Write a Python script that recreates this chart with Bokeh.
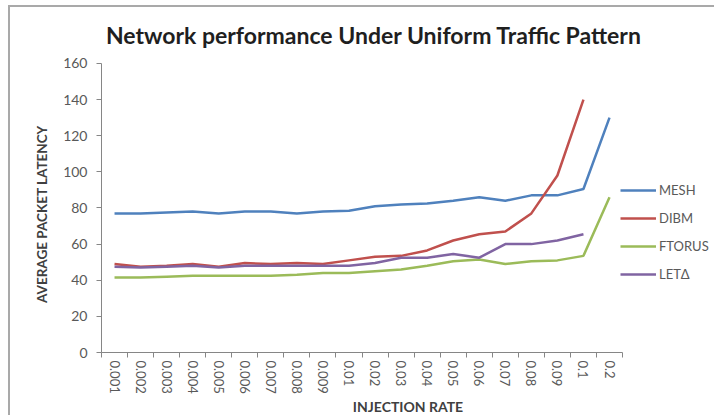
from bokeh.plotting import figure
from bokeh.models import Range1d, FixedTicker, Legend, LegendItem, Label
from bokeh.embed import file_html
from bokeh.resources import INLINE

# Injection rates (categories on the x axis)
rates = ["0.001", "0.002", "0.003", "0.004", "0.005", "0.006", "0.007", "0.008", "0.009",
         "0.01", "0.02", "0.03", "0.04", "0.05", "0.06", "0.07", "0.08", "0.09", "0.1", "0.2"]

# Average packet latency per topology
mesh = [77, 77, 77.5, 78, 77, 78, 78, 77, 78, 78.5, 81, 82, 82.5, 84, 86, 84, 87, 87, 90.5, 130]
dibm = [49, 47.5, 48, 49, 47.5, 49.5, 49, 49.5, 49, 51, 53, 53.5, 56.5, 62, 65.5, 67, 77, 98, 140]
ftorus = [41.5, 41.5, 42, 42.5, 42.5, 42.5, 42.5, 43, 44, 44, 45, 46, 48, 50.5, 51.5, 49, 50.5, 51, 53.5, 86]
leta = [47.5, 47, 47.5, 48, 47, 48, 48, 48, 48, 48, 49.5, 52.5, 52.5, 54.5, 52.5, 60, 60, 62, 65.5]

y_ticks = [0, 20, 40, 60, 80, 100, 120, 140, 160]
Y_MAX = 160

FONT = "Lato"
AXIS_GREY = "#868686"
TEXT_GREY = "#595959"

n = len(rates)
positions = [i + 0.5 for i in range(n)]
boundaries = list(range(n + 1))

# The frame covers the heading and legend area too; the axes are bounded
# to the data extent so they stop where the chart body ends.
p = figure(frame_width=613, frame_height=345, output_backend="svg", toolbar_location=None,
           x_range=Range1d(0, 23.53), y_range=Range1d(0, 191),
           min_border_left=91, min_border_right=0, min_border_top=0, min_border_bottom=63)
p.margin = (5, 0, 0, 8)
p.styles = {"border-top": "2px solid #a9a9a9", "border-left": "2px solid #a9a9a9"}
p.outline_line_color = None
p.background_fill_color = "white"
p.border_fill_color = "white"
p.grid.visible = False

# x axis: labels at category centres, tick marks at category boundaries
xa = p.xaxis[0]
xa.bounds = (0, n)
xa.ticker = FixedTicker(ticks=positions, minor_ticks=boundaries)
xa.major_label_overrides = {pos: lab for pos, lab in zip(positions, rates)}
xa.major_label_orientation = "vertical"
xa.major_tick_out = 0
xa.major_tick_in = 0
xa.minor_tick_out = 5
xa.minor_tick_in = 0
xa.minor_tick_line_color = AXIS_GREY
xa.axis_line_color = AXIS_GREY
xa.major_label_text_font = FONT
xa.major_label_text_font_size = "13px"
xa.major_label_text_color = TEXT_GREY
xa.major_label_standoff = 3
xa.axis_label = "INJECTION RATE"
xa.axis_label_text_font = FONT
xa.axis_label_text_font_style = "bold"
xa.axis_label_text_font_size = "14px"
xa.axis_label_text_color = "#404040"
xa.axis_label_standoff = 1

ya = p.yaxis[0]
ya.bounds = (0, Y_MAX)
ya.ticker = FixedTicker(ticks=y_ticks)
ya.major_tick_out = 5
ya.major_tick_in = 0
ya.minor_tick_out = 0
ya.minor_tick_in = 0
ya.major_tick_line_color = AXIS_GREY
ya.axis_line_color = AXIS_GREY
ya.major_label_text_font = FONT
ya.major_label_text_font_size = "14px"
ya.major_label_text_color = TEXT_GREY
ya.major_label_standoff = 9
# trailing no-break spaces keep the title centred on the bounded axis, not the taller frame
ya.axis_label = "AVERAGE PACKET LATENCY" + "\u00a0" * 21
ya.axis_label_text_font = FONT
ya.axis_label_text_font_style = "bold"
ya.axis_label_text_font_size = "13.5px"
ya.axis_label_text_color = "#404040"
ya.axis_label_standoff = 10

series = [
    ("MESH", mesh, "#4F81BD"),
    ("DIBM", dibm, "#C0504D"),
    ("FTORUS", ftorus, "#9BBB59"),
    ("LET\u0394", leta, "#8064A2"),
]
items = []
for name, vals, color in series:
    r = p.line(positions[:len(vals)], vals, line_color=color, line_width=2.5)
    items.append(LegendItem(label=name, renderers=[r]))

legend = Legend(items=items, location=(519, 68), orientation="vertical",
                padding=0, margin=0, spacing=8, glyph_width=36, glyph_height=20,
                label_height=20, label_standoff=3,
                label_text_font=FONT, label_text_font_size="13px",
                label_text_color=TEXT_GREY, border_line_color=None,
                background_fill_alpha=0)
p.add_layout(legend)

heading = Label(x=10.46, y=175.5, text="Network performance Under Uniform Traffic Pattern",
                text_align="center", text_baseline="middle", text_font=FONT,
                text_font_size="23px", text_font_style="bold", text_color="#1f1f1f")
p.add_layout(heading)

open("out.html", "w").write(file_html(p, INLINE))
